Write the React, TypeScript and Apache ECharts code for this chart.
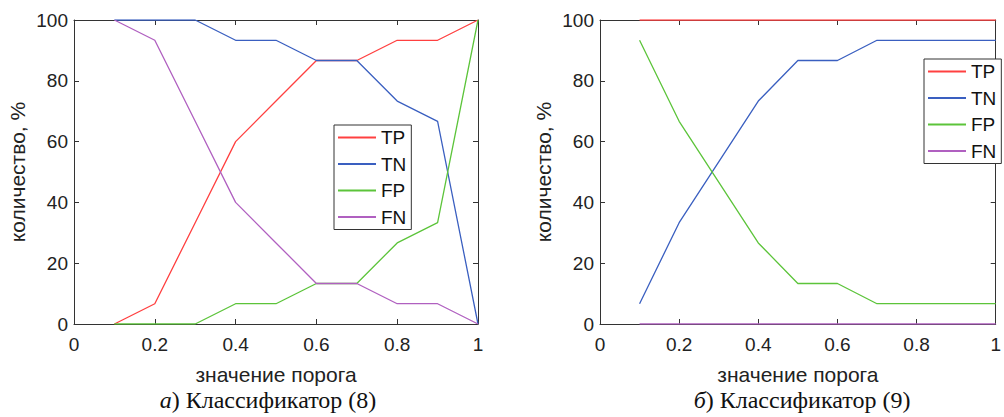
import React, { useEffect, useRef } from "react";
import * as echarts from "echarts";

const thresholds = [0.1, 0.2, 0.3, 0.4, 0.5, 0.6, 0.7, 0.8, 0.9, 1.0];
const seriesNames = ["TP", "TN", "FP", "FN"];
const seriesColors = ["#ff4040", "#3a5fc0", "#5cc43a", "#b060c0"];

// Классификатор (8)
const tpA = [0, 6.67, 33.33, 60, 73.33, 86.67, 86.67, 93.33, 93.33, 100];
const tnA = [100, 100, 100, 93.33, 93.33, 86.67, 86.67, 73.33, 66.67, 0];
const fpA = [0, 0, 0, 6.67, 6.67, 13.33, 13.33, 26.67, 33.33, 100];
const fnA = [100, 93.33, 66.67, 40, 26.67, 13.33, 13.33, 6.67, 6.67, 0];

// Классификатор (9)
const tpB = [100, 100, 100, 100, 100, 100, 100, 100, 100, 100];
const tnB = [6.67, 33.33, 53.33, 73.33, 86.67, 86.67, 93.33, 93.33, 93.33, 93.33];
const fpB = [93.33, 66.67, 46.67, 26.67, 13.33, 13.33, 6.67, 6.67, 6.67, 6.67];
const fnB = [0, 0, 0, 0, 0, 0, 0, 0, 0, 0];

const xAxisTitle = "значение порога";
const yAxisTitle = "количество, %";
const captionA = ["а", ") Классификатор (8)"];
const captionB = ["б", ") Классификатор (9)"];

const FONT = "'Liberation Sans', Arial, sans-serif";
const SERIF = "'Liberation Serif', 'Times New Roman', serif";
const AXIS_COLOR = "#333";

function pairs(ys: number[]) {
  return thresholds.map((x, i) => [x, ys[i]]);
}

export default function App() {
  const ref = useRef<HTMLDivElement>(null);
  useEffect(() => {
    if (!ref.current) return;
    const chart = echarts.init(ref.current, null, { renderer: "svg" });
    const grids = [
      { left: 74, top: 20, width: 404, height: 304 },
      { left: 600, top: 20, width: 403, height: 304 },
    ];
    const xAxes: any[] = [];
    const yAxes: any[] = [];
    for (let g = 0; g < 2; g++) {
      xAxes.push({
        type: "value",
        gridIndex: g,
        min: 0,
        max: 1,
        interval: 0.2,
        position: "bottom",
        name: xAxisTitle,
        nameLocation: "middle",
        nameGap: 40,
        nameTextStyle: { fontFamily: FONT, fontSize: 21, color: "#222" },
        axisLine: { show: true, onZero: false, lineStyle: { color: AXIS_COLOR } },
        axisTick: { show: true, inside: true, length: 5, lineStyle: { color: AXIS_COLOR } },
        axisLabel: { fontFamily: FONT, fontSize: 19, color: "#222", margin: 11, formatter: (v: number) => String(Math.round(v * 10) / 10) },
        splitLine: { show: false },
      });
      xAxes.push({
        type: "value",
        gridIndex: g,
        min: 0,
        max: 1,
        interval: 0.2,
        position: "top",
        axisLine: { show: true, onZero: false, lineStyle: { color: AXIS_COLOR } },
        axisTick: { show: true, inside: true, length: 5, lineStyle: { color: AXIS_COLOR } },
        axisLabel: { show: false },
        splitLine: { show: false },
      });
      yAxes.push({
        type: "value",
        gridIndex: g,
        min: 0,
        max: 100,
        interval: 20,
        position: "left",
        name: yAxisTitle,
        nameLocation: "middle",
        nameGap: 46,
        nameTextStyle: { fontFamily: FONT, fontSize: 21, color: "#222" },
        axisLine: { show: true, onZero: false, lineStyle: { color: AXIS_COLOR } },
        axisTick: { show: true, inside: true, length: 5, lineStyle: { color: AXIS_COLOR } },
        axisLabel: { fontFamily: FONT, fontSize: 19, color: "#222", margin: 6 },
        splitLine: { show: false },
      });
      yAxes.push({
        type: "value",
        gridIndex: g,
        min: 0,
        max: 100,
        interval: 20,
        position: "right",
        axisLine: { show: true, onZero: false, lineStyle: { color: AXIS_COLOR } },
        axisTick: { show: true, inside: true, length: 5, lineStyle: { color: AXIS_COLOR } },
        axisLabel: { show: false },
        splitLine: { show: false },
      });
    }
    const dataA = [tpA, tnA, fpA, fnA];
    const dataB = [tpB, tnB, fpB, fnB];
    const series: any[] = [];
    [dataA, dataB].forEach((set, g) => {
      set.forEach((ys, i) => {
        series.push({
          type: "line",
          name: seriesNames[i],
          xAxisIndex: g * 2,
          yAxisIndex: g * 2,
          data: pairs(ys),
          showSymbol: false,
          symbol: "none",
          color: seriesColors[i],
          lineStyle: { width: 1.3, color: seriesColors[i] },
          z: 3,
        });
      });
    });
    const legendBase = {
      orient: "vertical",
      icon: "rect",
      itemWidth: 38,
      itemHeight: 2,
      itemGap: 7.5,
      itemTextGap: 3,
      backgroundColor: "#fff",
      borderColor: "#333",
      borderWidth: 1,
      padding: [3, 5, 3, 4],
      textStyle: { fontFamily: FONT, fontSize: 19, color: "#111", lineHeight: 17 },
      data: seriesNames,
      selectedMode: false,
      z: 10,
    };
    const captionStyle = (parts: string[], x: number) => ({
      type: "text",
      x,
      y: 400,
      style: {
        text: `{i|${parts[0]}}{n|${parts[1]}}`,
        align: "center",
        verticalAlign: "middle",
        rich: {
          i: { fontFamily: SERIF, fontSize: 24, fontStyle: "italic", fill: "#111" },
          n: { fontFamily: SERIF, fontSize: 24, fill: "#111" },
        },
      },
    });
    chart.setOption({
      animation: false,
      backgroundColor: "#fff",
      grid: grids.map((g) => ({ ...g, show: false })),
      xAxis: xAxes,
      yAxis: yAxes,
      series,
      legend: [
        { ...legendBase, left: 334, top: 125 },
        { ...legendBase, left: 924, top: 59 },
      ],
      graphic: [captionStyle(captionA, 268), captionStyle(captionB, 802)],
    });
    return () => chart.dispose();
  }, []);
  return (
    <div
      ref={ref}
      style={{ position: "fixed", left: 0, top: 0, width: 1004, height: 417 }}
    />
  );
}
